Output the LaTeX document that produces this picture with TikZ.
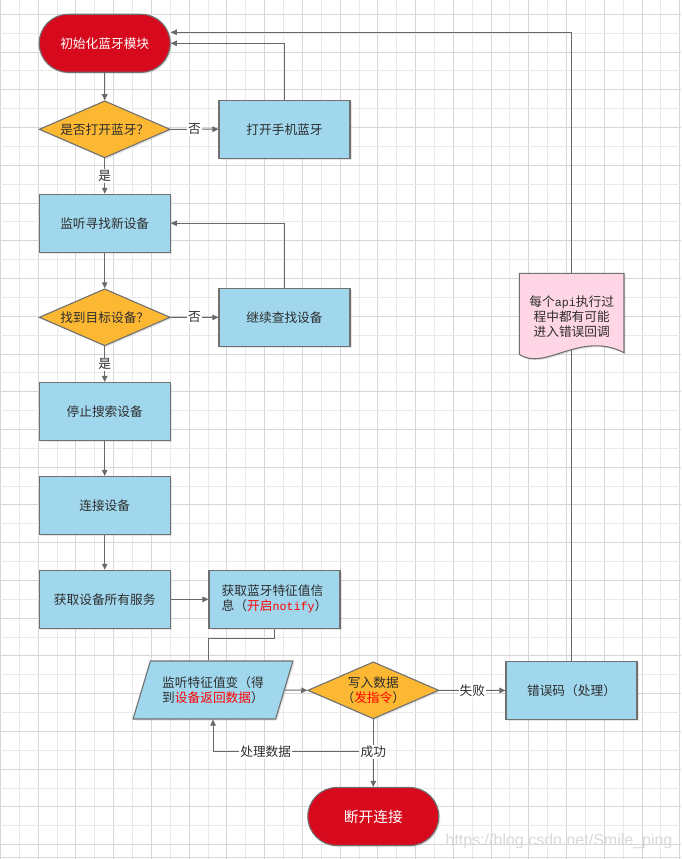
\documentclass[tikz,border=0pt]{standalone}
\usepackage{fontspec}
\setmainfont{Noto Sans CJK SC}
\setmonofont{Liberation Mono}[Scale=0.92]
\newfontfamily\markfont{Liberation Sans}
\usetikzlibrary{arrows.meta,shapes.geometric,shapes.misc,shadows,calc}
\definecolor{termred}{RGB}{215,9,29}
\definecolor{procblue}{RGB}{160,215,237}
\definecolor{decorange}{RGB}{252,184,50}
\definecolor{docpink}{RGB}{255,214,230}
\definecolor{edgegray}{RGB}{112,112,112}
\definecolor{linegray}{RGB}{105,105,105}
\definecolor{txtgray}{RGB}{45,45,45}
\definecolor{gridlight}{RGB}{234,234,234}
\definecolor{griddark}{RGB}{214,214,214}
\newcommand{\hot}[1]{\textcolor{red}{#1}}

\begin{document}
\begin{tikzpicture}[x=1pt, y=-1pt,
  every node/.style={font=\fontsize{12.7}{15}\selectfont, text=txtgray},
  base/.style={draw=edgegray, line width=1.1pt, inner sep=0pt,
    drop shadow={shadow xshift=1.5pt, shadow yshift=-1.5pt, opacity=0.2}},
  terminal/.style={base, rounded rectangle, fill=termred, text=white,
    minimum width=131pt, minimum height=58pt},
  process/.style={base, rectangle, fill=procblue,
    minimum width=131pt, minimum height=58pt},
  decision/.style={base, diamond, aspect=2.3, fill=decorange,
    minimum width=131pt, minimum height=57pt, align=center},
  flow/.style={draw=linegray, line width=1pt, -{Triangle[length=6pt,width=5.5pt]}},
  link/.style={draw=linegray, line width=1pt},
  tag/.style={fill=white, inner sep=1pt}]
  \useasboundingbox (0,0) rectangle (681,859);
  % background grid
  \fill[white] (0,0) rectangle (681,859);
  \foreach \k in {0,...,36} {
    \pgfmathsetmacro{\gx}{0.43+18.87*\k}
    \ifodd\k \def\gc{gridlight}\else \def\gc{griddark}\fi
    \draw[\gc, line width=0.9pt] (\gx,0) -- (\gx,859);
  }
  \foreach \k in {1,...,45} {
    \pgfmathsetmacro{\gy}{-4.57+18.87*\k}
    \ifodd\k \def\gc{griddark}\else \def\gc{gridlight}\fi
    \draw[\gc, line width=0.9pt] (0,\gy) -- (681,\gy);
  }
  \draw[griddark, line width=0.9pt] (0,857) -- (681,857);

  % left column
  \node[terminal] (init) at (104.7,43.3) {初始化蓝牙模块};
  \node[decision] (ison) at (104.7,129.3) {是否打开蓝牙？};
  \node[process] (open) at (284.5,129.2) {打开手机蓝牙};
  \node[process] (scan) at (104.7,223.3) {监听寻找新设备};
  \node[decision] (found) at (104.7,317.3) {找到目标设备？};
  \node[process] (again) at (284.5,317.5) {继续查找设备};
  \node[process] (halt) at (104.7,411.5) {停止搜索设备};
  \node[process] (link) at (104.7,505.5) {连接设备};
  \node[process] (serv) at (104.7,599.3) {获取设备所有服务};
  \node[process, align=left] (feat) at (274.5,599.3)
    {获取蓝牙特征值信\\息（\hot{开启\texttt{notify}}）};
  % bottom row
  \node[base, trapezium, trapezium left angle=62.6, trapezium right angle=117.4,
    trapezium stretches=true, fill=procblue, minimum width=160pt,
    minimum height=58pt, align=left] (listen) at (213,690)
    {监听特征值变（得\\到\hot{设备返回数据}）};
  \node[decision] (write) at (373.3,690.3) {写入数据\\（\hot{发指令}）};
  \node[process] (error) at (571.5,690.5) {错误码（处理）};
  \node[terminal, font=\fontsize{14.7}{17}\selectfont] (close) at (373.3,816.5) {断开连接};

  % connectors
  \draw[flow] (init) -- (ison);
  \draw[flow] (ison) -- node[tag] {是} (scan);
  \draw[flow] (ison) -- node[tag] {否} (open);
  \draw[flow] (open.north) |- (init.east);
  \draw[flow] (scan) -- (found);
  \draw[flow] (found) -- node[tag] {是} (halt);
  \draw[flow] (found) -- node[tag] {否} (again);
  \draw[flow] (again.north) |- (scan.east);
  \draw[flow] (halt) -- (link);
  \draw[flow] (link) -- (serv);
  \draw[flow] (serv) -- (feat);
  \draw[link] (feat.south) -- ++(0,10) -| ([xshift=-5pt]listen.north);
  \draw[flow] (listen.east) -- (write.west);
  \draw[flow] (write) -- node[tag] {失败} (error);
  \draw[flow] (error.north) |- ([yshift=11pt]init.east);
  \node[tag] (done) at (373.3,751.7) {成功};
  \draw[link] (write.south) -- (done);
  \draw[flow] (done) -- (close);
  \draw[flow] (done) -| node[tag, pos=0.32] {处理数据} (listen.south);

  % note on the error path
  \draw[draw=edgegray, line width=1.1pt, fill=docpink,
    drop shadow={shadow xshift=1.5pt, shadow yshift=-1.5pt, opacity=0.2}]
    (519.3,273.3) -- (624,273.3) -- (624,352.7)
    .. controls (580,330) and (545,372) .. (519.3,354.3) -- cycle;
  \node[align=center] (note) at (571.7,317)
    {每个\texttt{api}执行过\\程中都有可能\\进入错误回调};

  \node[font=\markfont\fontsize{16}{16}\selectfont, text=gray!30] (mark)
    at (559,841) {https://blog.csdn.net/Smile\_ping};
\end{tikzpicture}
\end{document}
